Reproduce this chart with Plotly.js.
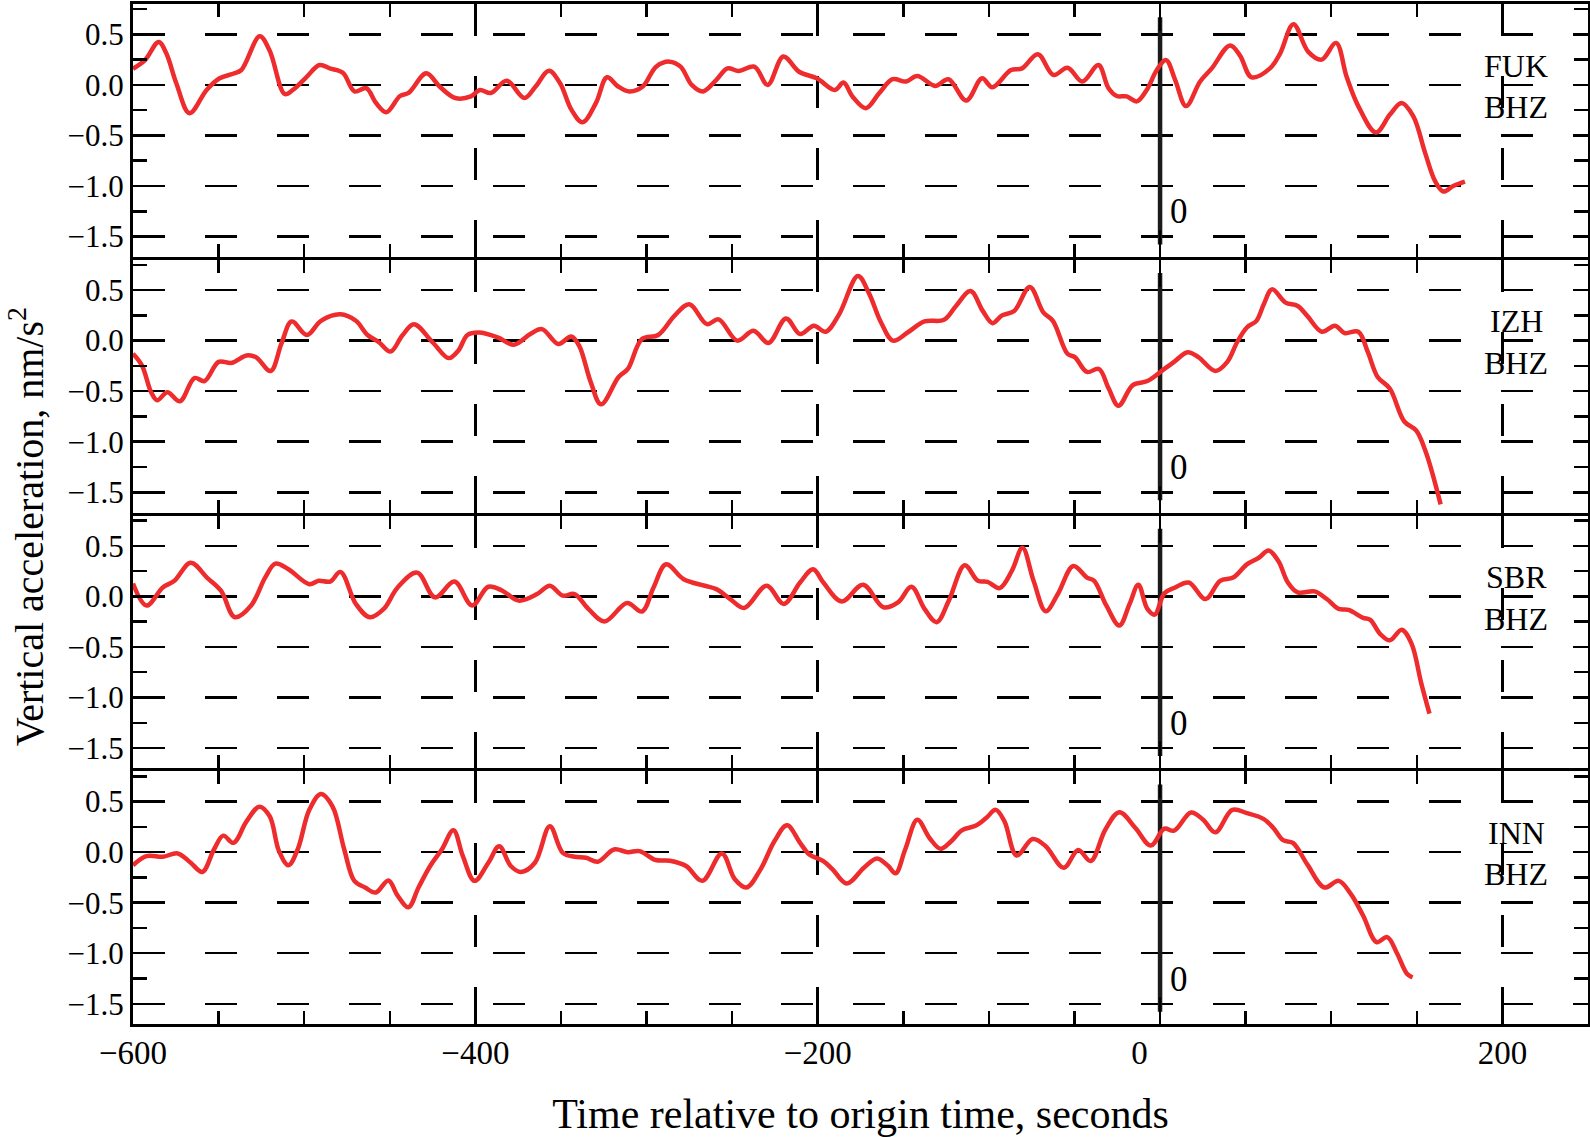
<!DOCTYPE html>
<html>
<head>
<meta charset="utf-8">
<script src="https://cdn.plot.ly/plotly-3.0.1.min.js"></script>
<style>html,body{margin:0;padding:0;background:#fff;}#chart{width:1590px;height:1137px;}</style>
</head>
<body>
<div id="chart"></div>
<script>
// ---- Data ----
const stations = ['FUK', 'IZH', 'SBR', 'INN'];
const component = 'BHZ';

const FUK_t = [-600,-593,-585,-580.5,-574.7,-567,-557,-549.4,-541.6,-536.7,
  -526,-520.2,-511.4,-506.6,-498.8,-491,-485,-477.4,-470.6,-463.7,
  -458,-452,-444,-439,-428.7,-420.9,-411.7,-402.6,-397.4,-390.9,
  -381.7,-371.3,-364.8,-357,-350.5,-343.9,-337.4,-329.6,-323.1,-316.6,
  -310,-302.2,-294.4,-286.6,-280.1,-273.6,-267,-259.2,-252.7,-246.2,
  -237,-229.2,-220.1,-210.9,-200.5,-190,-184.9,-179.7,-171.8,-164,
  -156.2,-148.4,-141.8,-131.4,-123.6,-113.2,-104,-98,-87.1,-80.6,
  -71.4,-62.3,-54,-45.4,-36,-30.2,-25.3,-19.5,-13.6,-7.8,
  -1.9,3.5,8.8,15.2,23.4,30.2,40.9,46.7,53.5,64.2,
  70.1,77.9,86.6,94.4,102.8,109,115.8,126.1,134.3,141.1,
  147.9,154.8,160.6,165.5,171.3,178.1];
const FUK_a = [0.16,0.245,0.425,0.31,0.016,-0.28,-0.05,0.065,0.11,0.147,
  0.48,0.34,-0.09,-0.05,0.075,0.196,0.163,0.12,-0.065,-0.033,
  -0.18,-0.27,-0.11,-0.08,0.114,-0.016,-0.13,-0.114,-0.05,-0.08,
  0.04,-0.13,-0.016,0.14,0.016,-0.245,-0.37,-0.18,0.075,-0.016,
  -0.065,-0.016,0.18,0.23,0.18,0.0,-0.065,0.05,0.163,0.137,
  0.18,0.0,0.28,0.13,0.065,-0.05,0.023,-0.114,-0.23,-0.08,
  0.056,0.033,0.088,-0.01,0.056,-0.154,0.065,-0.023,0.147,0.163,
  0.304,0.098,0.17,0.033,0.196,-0.03,-0.11,-0.114,-0.163,-0.05,
  0.147,0.245,0.05,-0.21,0.033,0.163,0.39,0.29,0.075,0.163,
  0.31,0.6,0.327,0.25,0.415,0.08,-0.21,-0.47,-0.294,-0.18,
  -0.31,-0.67,-0.95,-1.055,-1.0,-0.957];

const IZH_t = [-600,-594.8,-589.4,-585.9,-579.9,-572.6,-564.1,-558.2,-550,-542.4,
  -533.7,-528.3,-519.6,-513.3,-507.3,-498.4,-490.2,-478.8,-469.8,-463,
  -456.3,-449.5,-442.7,-435.9,-425,-415.5,-410,-404.6,-397.8,-387,
  -377.4,-367.9,-361.1,-351.6,-344,-339.4,-332.6,-326.6,-316.3,-310.9,
  -302.7,-293.2,-283.7,-275,-264.7,-257.9,-247,-237.5,-228.8,-218.5,
  -210.3,-202.2,-195.4,-187.5,-176.5,-170.1,-163,-156,-147.5,-137.6,
  -126.2,-119.2,-110.7,-103.6,-97.9,-92.3,-85.2,-76.1,-68.2,-62.6,
  -54.1,-49.8,-42.7,-35.7,-30,-24.3,-15.9,-7.4,2.5,8.2,
  16.1,22.4,32.3,39.3,45,50.7,56.3,60.6,65.4,73.3,
  80.4,86,94.5,102.2,107.8,115.8,121.4,127.1,134.2,142.7,
  149.7,155.4,163.9];
const IZH_a = [-0.13,-0.245,-0.51,-0.59,-0.51,-0.6,-0.37,-0.4,-0.21,-0.22,
  -0.147,-0.163,-0.3,-0.03,0.19,0.056,0.196,0.26,0.196,0.056,
  -0.016,-0.108,0.05,0.163,-0.016,-0.173,-0.1,0.056,0.08,0.033,
  -0.04,0.065,0.114,-0.033,0.04,-0.05,-0.41,-0.63,-0.36,-0.28,
  0.016,0.056,0.245,0.36,0.163,0.21,0.0,0.098,-0.023,0.22,
  0.065,0.147,0.088,0.26,0.64,0.47,0.18,0.0,0.08,0.19,
  0.206,0.343,0.49,0.294,0.173,0.25,0.294,0.53,0.28,0.196,
  -0.13,-0.163,-0.31,-0.28,-0.474,-0.644,-0.44,-0.4,-0.28,-0.21,
  -0.114,-0.163,-0.3,-0.21,-0.016,0.13,0.196,0.36,0.507,0.376,
  0.343,0.245,0.088,0.147,0.075,0.088,-0.114,-0.36,-0.474,-0.8,
  -0.89,-1.11,-1.62];

const SBR_t = [-600,-592.1,-582.6,-575.8,-566.3,-556.8,-548.6,-540.5,-531,-522.8,
  -516.8,-509.2,-497,-491.6,-484.8,-478.8,-469.8,-461.7,-453.5,-445.4,
  -434,-423.6,-412.2,-401.9,-392.4,-384.2,-374.7,-363.9,-356.5,-348.9,
  -342.1,-334,-324.5,-311.4,-302.7,-295.9,-288.6,-278.3,-266,-259.2,
  -251.1,-242.9,-229.9,-219.8,-210.3,-202.7,-196.7,-186,-173.5,-161.6,
  -153.1,-145.2,-137.6,-130.5,-123.4,-114.1,-106.4,-100.8,-93.7,-86.6,
  -80.4,-73.9,-66.8,-59.7,-50.7,-42.7,-38.5,-31.4,-23.8,-17.8,
  -12.7,-7.4,-3.1,2.5,8.8,16.7,26.6,35.1,42.7,50.7,
  57.7,63.4,69.1,74.7,80.4,90.3,97.4,104.4,110.1,118.6,
  122.8,128.5,134.2,141.2,146.9,152.6,157.4];
const SBR_a = [0.127,-0.09,0.088,0.154,0.333,0.186,0.056,-0.206,-0.09,0.186,
  0.324,0.268,0.121,0.154,0.147,0.242,-0.075,-0.206,-0.124,0.088,
  0.235,-0.01,0.147,-0.09,0.095,0.056,-0.042,0.023,0.105,0.007,
  0.023,-0.124,-0.248,-0.065,-0.15,0.088,0.317,0.17,0.105,0.072,
  -0.026,-0.114,0.105,-0.075,0.137,0.268,0.137,-0.05,0.114,-0.108,
  -0.059,0.095,-0.124,-0.255,-0.042,0.307,0.154,0.144,0.082,0.252,
  0.48,0.154,-0.147,0.023,0.3,0.186,0.154,-0.09,-0.288,-0.075,
  0.114,-0.124,-0.18,0.03,0.088,0.137,-0.026,0.154,0.186,0.317,
  0.382,0.454,0.35,0.137,0.039,0.049,-0.026,-0.124,-0.134,-0.212,
  -0.232,-0.37,-0.435,-0.33,-0.467,-0.86,-1.16];

const INN_t = [-600,-592.1,-582.6,-573.9,-566.3,-559.5,-552.7,-547.3,-541.3,-533.7,
  -526.1,-520.1,-514.7,-509.2,-503.8,-497,-490.2,-483.4,-476.6,-470.7,
  -464.4,-458.2,-450.8,-445.4,-439.1,-433.2,-426.4,-419.6,-412.8,-407.3,
  -400.5,-392.4,-386.1,-379.3,-373.4,-365.2,-356.5,-348.9,-342.1,-335.3,
  -328.5,-319,-310.9,-304.1,-294.6,-286.4,-276.9,-267.4,-256,-248.4,
  -241.6,-233.4,-225.3,-217.9,-210.3,-204.9,-196.7,-191.3,-183,-173,
  -165.3,-158.8,-154.5,-148.9,-141.8,-134.7,-128.2,-122,-115.8,-107.8,
  -101.6,-96,-90.9,-83.8,-74.4,-66.8,-56.3,-47.8,-40.5,-32,
  -23.8,-14.4,-5.4,2.5,8.2,18.1,25.2,32.3,42.2,50.7,
  60.6,66.2,71.9,77.6,86,96,104.4,111.5,118.6,126.5,
  132.7,138.4,144.1,147.5];
const INN_a = [-0.13,-0.04,-0.046,-0.013,-0.105,-0.196,0.026,0.163,0.092,0.304,
  0.45,0.353,0.01,-0.13,0.026,0.418,0.575,0.45,0.026,-0.284,
  -0.35,-0.4,-0.28,-0.43,-0.546,-0.35,-0.137,0.026,0.216,-0.04,
  -0.284,-0.105,0.059,-0.137,-0.196,-0.105,0.255,-0.007,-0.046,-0.056,
  -0.095,0.026,0.0,0.01,-0.078,-0.085,-0.137,-0.284,-0.013,-0.268,
  -0.35,-0.17,0.108,0.265,0.092,-0.023,-0.088,-0.17,-0.31,-0.154,
  -0.062,-0.137,-0.21,0.026,0.32,0.14,0.033,0.108,0.216,0.26,
  0.337,0.418,0.304,-0.033,0.13,0.059,-0.154,0.02,-0.088,0.222,
  0.395,0.239,0.065,0.232,0.212,0.392,0.32,0.196,0.418,0.386,
  0.327,0.239,0.118,0.092,-0.121,-0.35,-0.284,-0.415,-0.627,-0.89,
  -0.84,-1.0,-1.2,-1.24];

// origin-time marker
const markerTime = 0;
const markerLabel = '0';
const markerSpan = [0.67, -1.58];

// axes ticks
const xTickVals = [-600, -400, -200, 0, 200];
const xTickText = ['\u2212600', '\u2212400', '\u2212200', '0\u00a0\u00a0\u00a0\u00a0\u00a0', '200'];
const yTickVals = [0.5, 0.0, -0.5, -1.0, -1.5];
const xTitle = 'Time relative to origin time, seconds';
const yTitle = 'Vertical acceleration, nm/s<sup>2</sup>';

const series = [[FUK_t, FUK_a], [IZH_t, IZH_a], [SBR_t, SBR_a], [INN_t, INN_a]];

// ---- Build figure ----
const FONT = 'Liberation Serif, Times New Roman, serif';
const traces = [];
const annotations = [];
const layout = {
  width: 1590, height: 1137,
  margin: {l: 133, r: 2, t: 4, b: 113},
  paper_bgcolor: '#ffffff', plot_bgcolor: '#ffffff',
  showlegend: false,
  font: {family: FONT, color: '#000', size: 32},
};

// panel geometry: small gap so adjacent frame lines coincide
const LW = 3;
const gap = LW / 1020;
const ph = (1 - 3 * gap) / 4;

for (let k = 0; k < 4; k++) {
  const n = k + 1;
  const xs = n === 1 ? '' : String(n);
  const xa = 'x' + xs, ya = 'y' + xs;
  const top = 1 - k * (ph + gap);
  // marker line
  traces.push({
    type: 'scatter', mode: 'lines', xaxis: xa, yaxis: ya,
    x: [markerTime, markerTime], y: markerSpan,
    line: {color: '#1b1b1b', width: 4.5}, hoverinfo: 'skip'
  });
  traces.push({
    type: 'scatter', mode: 'lines', xaxis: xa, yaxis: ya,
    x: series[k][0], y: series[k][1],
    line: {color: '#ee2b2d', width: 4.5, shape: 'spline', smoothing: 1},
    hoverinfo: 'skip'
  });
  layout['xaxis' + xs] = {
    domain: [0, 1], anchor: ya, range: [-600, 250],
    tickmode: 'array', tickvals: xTickVals, ticktext: xTickText,
    ticks: 'inside', ticklen: 27, tickwidth: 2.5, tickcolor: '#000',
    showline: true, linewidth: LW, linecolor: '#000', mirror: 'ticks',
    showgrid: true, gridcolor: '#000', gridwidth: 2.5, griddash: '32px,40px',
    zeroline: false, showticklabels: n === 4,
    tickfont: {size: 33, family: FONT, color: '#000'},
    ticklabelstandoff: -3,
    minor: {dtick: 50, tick0: 0, ticks: 'inside', ticklen: 13, tickwidth: 2.5, tickcolor: '#000', showgrid: false},
    fixedrange: true
  };
  if (n === 4) {
    layout['xaxis' + xs].title = {text: xTitle, font: {size: 42, family: FONT, color: '#000'}, standoff: 33};
  }
  layout['yaxis' + xs] = {
    domain: [Math.max(0, top - ph), Math.min(1, top)], anchor: xa, range: [-1.7, 0.8],
    tickmode: 'array', tickvals: yTickVals, tickformat: '.1f',
    ticks: 'inside', ticklen: 14, tickwidth: 2.5, tickcolor: '#000',
    showline: true, linewidth: LW, linecolor: '#000', mirror: 'ticks',
    showgrid: true, gridcolor: '#000', gridwidth: 2.5, griddash: '32px,40px',
    zeroline: false, tickfont: {size: 31, family: FONT, color: '#000'},
    minor: {dtick: 0.25, tick0: 0, ticks: 'inside', ticklen: 14, tickwidth: 2.5, tickcolor: '#000', showgrid: false},
    fixedrange: true
  };
  annotations.push({xref: xa, yref: ya, x: 208, y: 0.19, text: stations[k], showarrow: false,
    xanchor: 'center', yanchor: 'middle', font: {size: 32, family: FONT, color: '#000'}});
  annotations.push({xref: xa, yref: ya, x: 208, y: -0.22, text: component, showarrow: false,
    xanchor: 'center', yanchor: 'middle', font: {size: 32, family: FONT, color: '#000'}});
  annotations.push({xref: xa, yref: ya, x: 11, y: -1.255, text: markerLabel, showarrow: false,
    xanchor: 'center', yanchor: 'middle', font: {size: 35, family: FONT, color: '#000'}});
}
annotations.push({xref: 'paper', yref: 'paper', x: -0.0735, y: 0.487, text: yTitle, textangle: -90,
  showarrow: false, xanchor: 'center', yanchor: 'middle', font: {size: 40, family: FONT, color: '#000'}});
layout.annotations = annotations;

Plotly.newPlot('chart', traces, layout, {staticPlot: true, displayModeBar: false});
</script>
</body>
</html>
